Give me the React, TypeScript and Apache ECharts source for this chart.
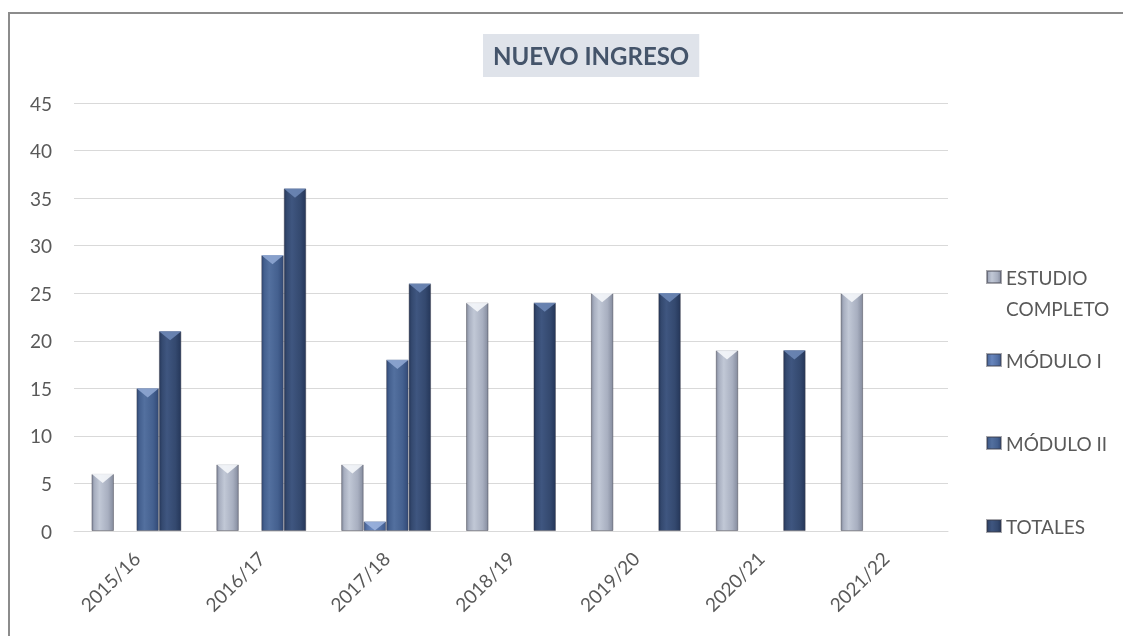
import React, { useEffect, useRef } from "react";
import * as echarts from "echarts";

const categories = ["2015/16", "2016/17", "2017/18", "2018/19", "2019/20", "2020/21", "2021/22"];
const seriesNames = ["ESTUDIO COMPLETO", "MÓDULO I", "MÓDULO II", "TOTALES"];
const estudioCompleto: (number | string)[] = [6, 7, 7, 24, 25, 19, 25];
const moduloI: (number | string)[] = ["-", "-", 1, "-", "-", "-", "-"];
const moduloII: (number | string)[] = [15, 29, 18, "-", "-", "-", "-"];
const totales: (number | string)[] = [21, 36, 26, 24, 25, 19, "-"];
const yTicks = { min: 0, max: 45, interval: 5 };

const FONT = "Lato";

function grad(edge: string, mid: string, light: string) {
  return new echarts.graphic.LinearGradient(0, 0, 1, 0, [
    { offset: 0, color: edge },
    { offset: 0.12, color: mid },
    { offset: 0.35, color: light },
    { offset: 0.75, color: mid },
    { offset: 1, color: edge },
  ]);
}

export default function App() {
  const ref = useRef<HTMLDivElement>(null);
  useEffect(() => {
    if (!ref.current) return;
    const chart = echarts.init(ref.current, undefined, { renderer: "svg" });
    const styles = [
      { color: grad("#858c9e", "#a8afc0", "#c1c8d6"), top: "#f5f7fb" },
      { color: grad("#3f5a8c", "#5471a6", "#6886bd"), top: "#9bb3de" },
      { color: grad("#324a77", "#44608f", "#53709f"), top: "#8ea6d2" },
      { color: grad("#25375a", "#34496f", "#3f5680"), top: "#6d87b6" },
    ];
    const datas = [estudioCompleto, moduloI, moduloII, totales];
    const common = { barCategoryGap: "28%", barGap: "0%" };
    const bars = seriesNames.map((n, i) => ({
      name: n,
      type: "bar",
      data: datas[i],
      ...common,
      itemStyle: {
        color: styles[i].color,
        borderColor: "rgba(60,60,70,0.45)",
        borderWidth: 1,
      },
      z: 2,
    }));
    const tops = seriesNames.map((n, i) => ({
      name: n + " top",
      type: "pictorialBar",
      data: datas[i],
      ...common,
      symbol: "path://M0,0 L2,0 L1,1 Z",
      symbolSize: ["100%", 9],
      symbolPosition: "end",
      symbolClip: false,
      itemStyle: { color: styles[i].top, opacity: 0.9 },
      silent: true,
      z: 3,
    }));
    const legendBase = {
      orient: "vertical",
      left: 976,
      padding: 0,
      itemWidth: 14,
      itemHeight: 12,
      icon: "rect",
      selectedMode: false,
      textStyle: { fontFamily: FONT, fontSize: 19, color: "#595959", lineHeight: 31 },
    };
    chart.setOption({
      animation: false,
      textStyle: { fontFamily: FONT },
      title: {
        text: "NUEVO INGRESO",
        left: 473,
        top: 20,
        padding: [8, 10, 8, 10],
        backgroundColor: "#dfe3ea",
        textStyle: { fontFamily: FONT, fontSize: 24, fontWeight: "bold", color: "#44546a", lineHeight: 27 },
      },
      legend: [
        { ...legendBase, top: 216.5, data: [seriesNames[0]], formatter: () => " \nESTUDIO\nCOMPLETO" },
        { ...legendBase, top: 330.5, data: [seriesNames[1]] },
        { ...legendBase, top: 413.5, data: [seriesNames[2]] },
        { ...legendBase, top: 496.5, data: [seriesNames[3]] },
      ],
      grid: { left: 64, top: 89, right: 175, bottom: 105, containLabel: false },
      xAxis: {
        type: "category",
        data: categories,
        axisLine: { lineStyle: { color: "#d9d9d9", width: 1 } },
        axisTick: { show: false },
        axisLabel: {
          rotate: 45,
          interval: 0,
          margin: 24,
          fontFamily: FONT,
          fontSize: 19,
          color: "#595959",
        },
      },
      yAxis: {
        type: "value",
        min: yTicks.min,
        max: yTicks.max,
        interval: yTicks.interval,
        axisLine: { show: false },
        axisTick: { show: false },
        splitLine: { lineStyle: { color: "#d9d9d9", width: 1 } },
        axisLabel: { margin: 22, fontFamily: FONT, fontSize: 19, color: "#595959" },
      },
      series: [...bars, ...tops],
    });
    return () => chart.dispose();
  }, []);
  return (
    <div
      style={{
        position: "fixed",
        left: 8,
        top: 12,
        width: 1113,
        height: 622,
        borderLeft: "2px solid #8c8c8c",
        borderTop: "2px solid #8c8c8c",
        overflow: "hidden",
      }}
    >
      <div ref={ref} style={{ width: 1113, height: 622 }} />
    </div>
  );
}
